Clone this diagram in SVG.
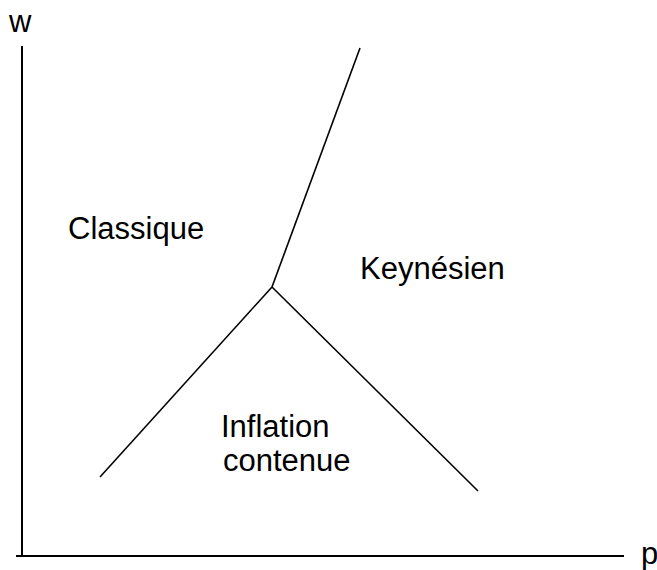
<svg xmlns="http://www.w3.org/2000/svg" width="657" height="570" viewBox="0 0 657 570">
<style>
.t{font-family:"Liberation Sans",Arial,sans-serif;font-size:31px;fill:#000}
.l{stroke:#000;stroke-width:1.6;fill:none}
.a{stroke:#000;stroke-width:2;fill:none}
</style>
<rect width="657" height="570" fill="#fff"/>
<g id="axes">
<line class="a" x1="22" y1="46" x2="22" y2="556"/>
<line class="a" x1="16" y1="556" x2="624" y2="556"/>
<text class="t" x="9" y="32">w</text>
<text class="t" x="641" y="564">p</text>
</g>
<g id="connectors">
<line class="l" x1="272" y1="287" x2="360" y2="48"/>
<line class="l" x1="272" y1="287" x2="100" y2="477"/>
<line class="l" x1="272" y1="287" x2="478" y2="491"/>
</g>
<g id="classique"><text class="t" x="68" y="239">Classique</text></g>
<g id="keynesien"><text class="t" x="360" y="279">Keynésien</text></g>
<g id="inflation"><text class="t" x="221" y="437">Inflation</text><text class="t" x="223" y="471">contenue</text></g>
</svg>
